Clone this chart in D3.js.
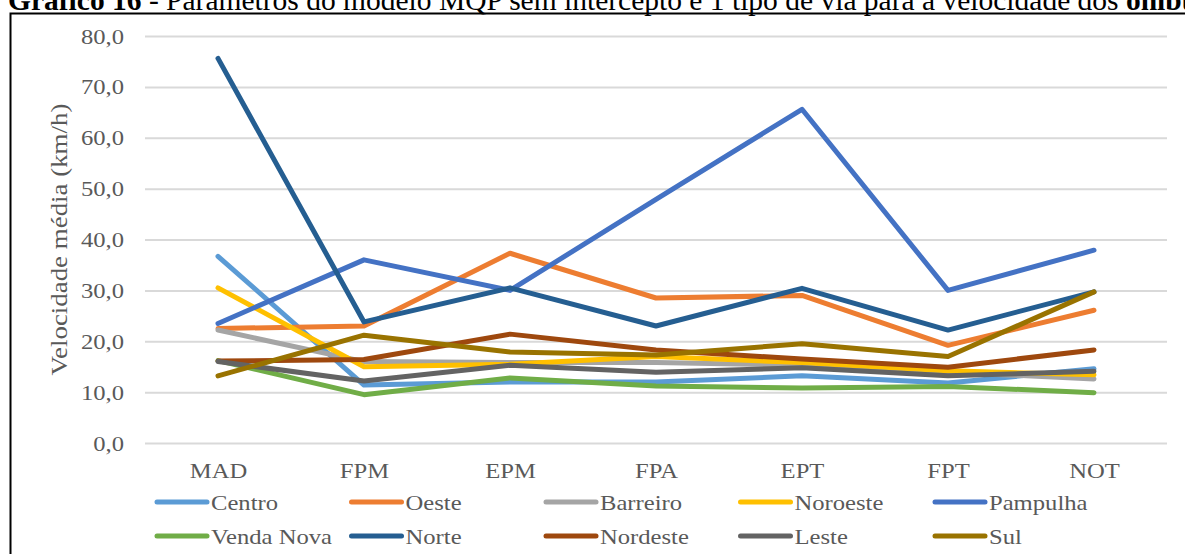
<!DOCTYPE html>
<html>
<head>
<meta charset="utf-8">
<script src="https://cdn.jsdelivr.net/npm/d3@7"></script>
<style>
  body { margin: 0; background: #fff; }
  svg { display: block; }
  text { font-family: "Liberation Serif", "Times New Roman", serif; }
</style>
</head>
<body>
<svg id="chart" width="1185" height="554"></svg>
<script>
// categories and values (km/h)
var categories = ["MAD", "FPM", "EPM", "FPA", "EPT", "FPT", "NOT"];
var yTicks = [0, 10, 20, 30, 40, 50, 60, 70, 80];

var centro    = [36.7, 11.4, 12.0, 12.0, 13.2, 11.8, 14.6];
var oeste     = [22.5, 23.0, 37.3, 28.5, 29.0, 19.2, 26.1];
var barreiro  = [22.2, 16.0, 15.8, 15.8, 15.3, 13.9, 12.6];
var noroeste  = [30.5, 15.0, 15.5, 17.0, 15.8, 14.2, 13.4];
var pampulha  = [23.5, 36.0, 30.0, 47.9, 65.6, 30.0, 37.9];
var vendaNova = [16.2, 9.5, 12.8, 11.2, 10.8, 11.1, 9.9];
var norte     = [75.6, 23.8, 30.5, 23.0, 30.4, 22.2, 29.7];
var nordeste  = [16.1, 16.4, 21.4, 18.3, 16.5, 14.9, 18.3];
var leste     = [16.0, 12.2, 15.3, 13.9, 14.8, 13.2, 14.1];
var sul       = [13.2, 21.2, 17.9, 17.3, 19.5, 17.0, 29.7];

var seriesNames = ["Centro", "Oeste", "Barreiro", "Noroeste", "Pampulha",
                   "Venda Nova", "Norte", "Nordeste", "Leste", "Sul"];
var seriesValues = [centro, oeste, barreiro, noroeste, pampulha,
                    vendaNova, norte, nordeste, leste, sul];
var seriesColors = ["#5B9BD5", "#ED7D31", "#A5A5A5", "#FFC000", "#4472C4",
                    "#70AD47", "#255E91", "#9E480E", "#636363", "#997300"];

var FONT = "Liberation Serif, Times New Roman, serif";
var SX = 1.12; // the source text is a bit wider than plain Times
var svg = d3.select("#chart");
var margin = {left: 145, right: 18, top: 36, bottom: 111};
var W = 1185, H = 554;

var x = d3.scalePoint().domain(categories).range([margin.left, W - margin.right]).padding(0.5);
var y = d3.scaleLinear().domain([0, 80]).range([H - margin.bottom, margin.top]);

// title (cut at the top edge, as in the source)
var title = svg.append("text").attr("x", 8).attr("y", 9.5)
  .attr("font-size", 29.5).attr("font-family", FONT).attr("fill", "#000");
title.append("tspan").attr("font-weight", "bold").text("Gráfico 16");
title.append("tspan").text(" - Parâmetros do modelo MQP sem intercepto e 1 tipo de via para a velocidade dos ");
title.append("tspan").attr("font-weight", "bold").text("ônibus");

// chart frame
svg.append("path")
  .attr("d", "M10.5," + (H + 5) + "V13.5H" + (W + 5))
  .attr("fill", "none").attr("stroke", "#000").attr("stroke-width", 2);

// gridlines + y labels
var yAxis = svg.append("g")
  .attr("transform", "translate(" + margin.left + ",0)")
  .call(d3.axisLeft(y).tickValues(yTicks).tickSize(-(W - margin.left - margin.right))
        .tickFormat(d => d3.format(".1f")(d).replace(".", ",")));
yAxis.attr("font-family", FONT);
yAxis.select(".domain").remove();
yAxis.selectAll(".tick line").attr("stroke", "#d9d9d9").attr("stroke-width", 2);
yAxis.selectAll(".tick text").attr("x", -21 / SX).attr("font-size", 22)
  .attr("transform", "scale(" + SX + ",1)")
  .attr("fill", "#595959");

// x labels
var xAxis = svg.append("g")
  .attr("transform", "translate(0," + (H - margin.bottom) + ")")
  .call(d3.axisBottom(x).tickSize(0));
xAxis.attr("font-family", FONT);
xAxis.select(".domain").remove();
xAxis.selectAll(".tick text").attr("y", 19).attr("font-size", 22)
  .attr("transform", "scale(" + SX + ",1)")
  .attr("fill", "#595959");

// axis title
svg.append("text")
  .attr("transform", "translate(67," + ((margin.top + H - margin.bottom) / 2) + ") rotate(-90) scale(1.17,1)")
  .attr("text-anchor", "middle").attr("font-size", 23).attr("font-family", FONT)
  .attr("fill", "#595959")
  .text("Velocidade média (km/h)");

// series lines
var line = d3.line().x((d, i) => x(categories[i])).y(d => y(d));
svg.append("g").selectAll("path")
  .data(seriesValues)
  .enter().append("path")
  .attr("d", line)
  .attr("fill", "none")
  .attr("stroke", (d, i) => seriesColors[i])
  .attr("stroke-width", 5)
  .attr("stroke-linecap", "round")
  .attr("stroke-linejoin", "round");

// legend
var legend = svg.append("g").selectAll("g")
  .data(seriesNames)
  .enter().append("g")
  .attr("transform", (d, i) => "translate(" + (155 + (i % 5) * 194.5) + "," + (502 + Math.floor(i / 5) * 34) + ")");
legend.append("line")
  .attr("x1", 2).attr("x2", 52).attr("y1", 0).attr("y2", 0)
  .attr("stroke", (d, i) => seriesColors[i]).attr("stroke-width", 5).attr("stroke-linecap", "round");
legend.append("text")
  .attr("x", 56 / SX).attr("dy", "0.35em").attr("font-size", 22).attr("font-family", FONT)
  .attr("transform", "scale(" + SX + ",1)")
  .attr("fill", "#595959")
  .text(d => d);
</script>
</body>
</html>
